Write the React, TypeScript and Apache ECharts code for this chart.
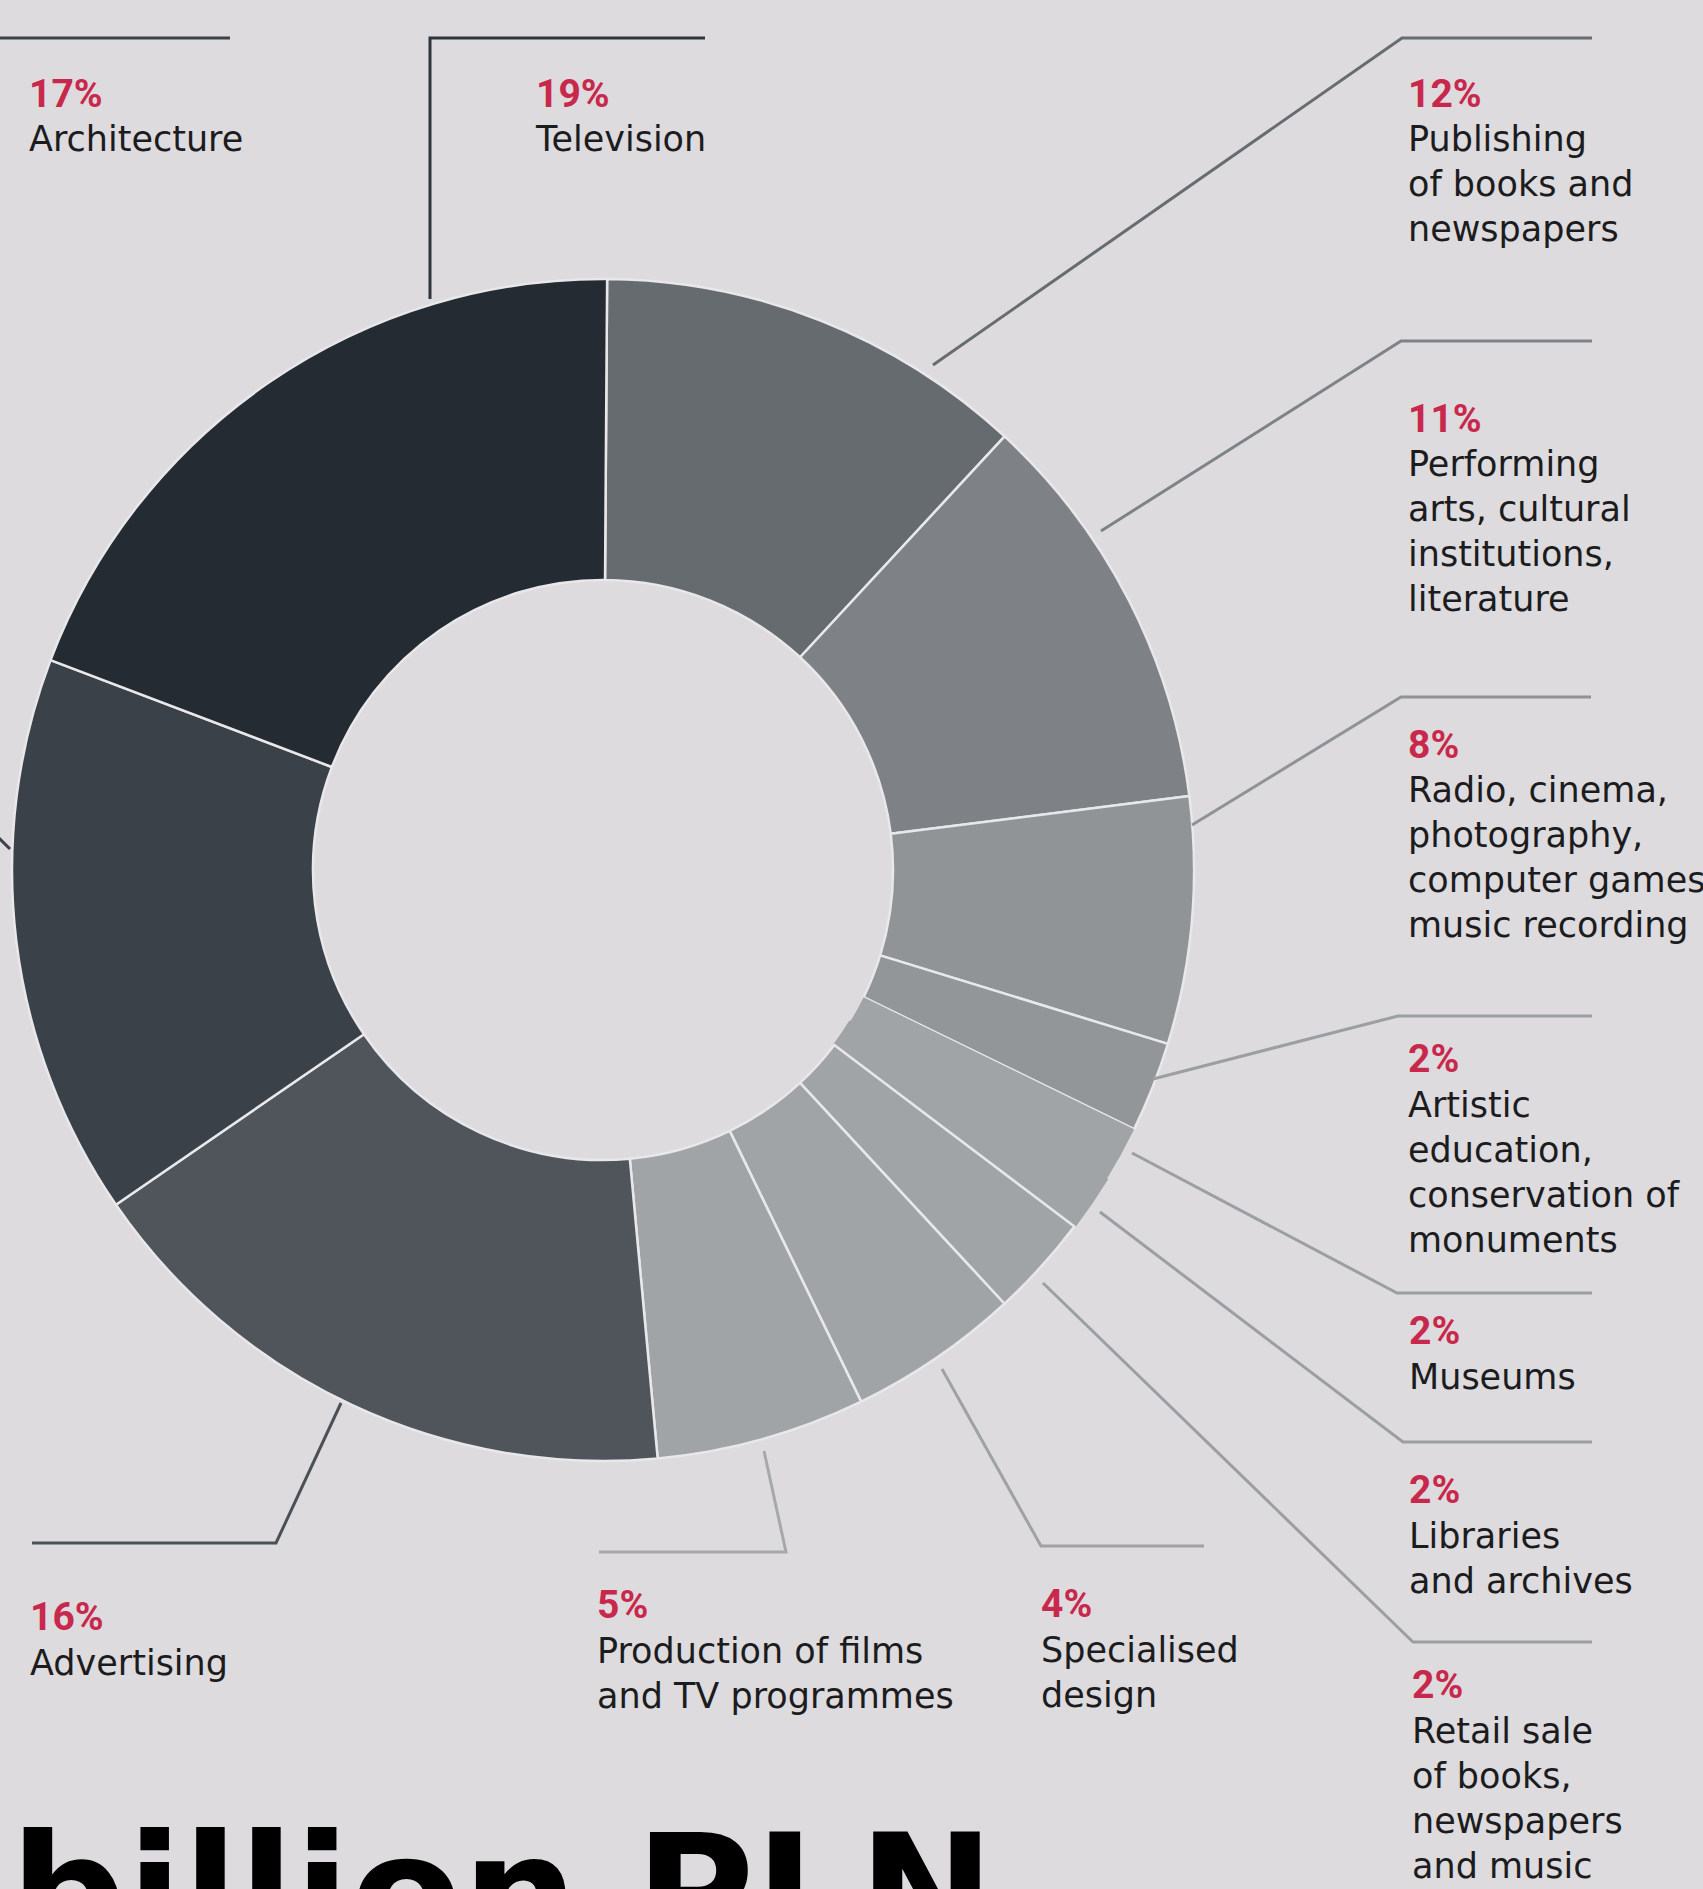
import React, { useEffect, useRef } from "react";
import * as echarts from "echarts";

// ---------- data (clockwise from 12 o'clock) ----------
const sectors = [
  "Publishing of books and newspapers",
  "Performing arts, cultural institutions, literature",
  "Radio, cinema, photography, computer games, music recording",
  "Artistic education, conservation of monuments",
  "Museums",
  "Libraries and archives",
  "Retail sale of books, newspapers and music",
  "Specialised design",
  "Production of films and TV programmes",
  "Advertising",
  "Architecture",
  "Television",
];

// label texts as printed (line breaks as in the picture)
const labelLines: string[][] = [
  ["Publishing", "of books and", "newspapers"],
  ["Performing", "arts, cultural", "institutions,", "literature"],
  ["Radio, cinema,", "photography,", "computer games", "music recording"],
  ["Artistic", "education,", "conservation of", "monuments"],
  ["Museums"],
  ["Libraries", "and archives"],
  ["Retail sale", "of books,", "newspapers", "and music"],
  ["Specialised", "design"],
  ["Production of films", "and TV programmes"],
  ["Advertising"],
  ["Architecture"],
  ["Television"],
];

// percentages as printed on the labels
const labelPercents = [12, 11, 8, 2, 2, 2, 2, 4, 5, 16, 17, 19];

// slice shares as drawn in the picture
const drawnShares = [11.78, 11.11, 6.75, 2.47, 1.54, 1.54, 2.81, 4.69, 5.72, 16.89, 15.36, 19.33];

const captionText = "billion PLN";

// ---------- styles & layout ----------
const BG = "#dddbde";
const SEP = "#e8e7ea";
const sliceColors = [
  "#666b6f", "#7e8286", "#909497", "#929699", "#a1a4a7", "#a1a4a7",
  "#a1a4a7", "#a1a4a7", "#a1a4a7", "#4f555b", "#3b4148", "#252b32",
];
const leaderColors = [
  "#676c70", "#7e8387", "#8f9396", "#9b9fa2", "#9b9fa2", "#9b9fa2",
  "#9b9fa2", "#9fa2a5", "#a6a9ac", "#4b5056", "#3d4248", "#2f353b",
];
// [x, y of percent line middle]
const labelAnchors: [number, number][] = [
  [1408, 93.5], [1408, 418.5], [1408, 744.5], [1408, 1059], [1409, 1331], [1409, 1490],
  [1412, 1685], [1041, 1604], [597, 1605], [30, 1617], [29, 93.5], [536, 93.5],
];
const leaderPaths: [number, number][][] = [
  [[933, 365], [1402, 38], [1592, 38]],
  [[1101, 531], [1401, 341], [1592, 341]],
  [[1192, 825], [1401, 697], [1591, 697]],
  [[1153, 1079], [1398, 1016], [1592, 1016]],
  [[1132, 1153], [1397, 1293], [1592, 1293]],
  [[1100, 1212], [1403, 1442], [1592, 1442]],
  [[1043, 1283], [1413, 1642], [1592, 1642]],
  [[942, 1369], [1041, 1546], [1204, 1546]],
  [[764, 1451], [786, 1552], [599, 1552]],
  [[341, 1403], [276, 1543], [32, 1543]],
  [[10, 849], [-40, 800], [-40, 38], [230, 38]],
  [[430, 299], [430, 38], [705, 38]],
];

const RED = "#c8284b";
const INK = "#1c1c1e";
const BODY_FONT = "'DejaVu Sans', 'Open Sans', sans-serif";
const PCT_FONT = "Roboto, 'DejaVu Sans', sans-serif";

export default function App() {
  const ref = useRef<HTMLDivElement>(null);

  useEffect(() => {
    if (!ref.current) return;
    const chart = echarts.init(ref.current, undefined, { renderer: "svg" });

    const graphics: any[] = [];
    leaderPaths.forEach((pts, i) => {
      graphics.push({
        type: "polyline",
        z: 100,
        silent: true,
        shape: { points: pts },
        style: { stroke: leaderColors[i], lineWidth: 3, fill: null },
      });
    });
    labelAnchors.forEach(([x, y], i) => {
      graphics.push({
        type: "text",
        z: 101,
        x,
        y,
        silent: true,
        style: {
          text: labelPercents[i] + "%",
          fontSize: 39,
          fontWeight: "bold",
          fontFamily: PCT_FONT,
          fill: RED,
          verticalAlign: "middle",
          align: "left",
        },
      });
      graphics.push({
        type: "text",
        z: 101,
        x,
        y: y + 23,
        silent: true,
        style: {
          text: labelLines[i].join("\n"),
          fontSize: 35,
          fontFamily: BODY_FONT,
          fill: INK,
          lineHeight: 45,
          verticalAlign: "top",
          align: "left",
        },
      });
    });
    graphics.push({
      type: "text",
      z: 101,
      x: 10,
      y: 1893,
      silent: true,
      style: {
        text: captionText,
        fontSize: 163,
        fontWeight: "bold",
        fontFamily: "'DejaVu Sans', sans-serif",
        fill: "#000000",
        verticalAlign: "middle",
        align: "left",
      },
    });

    const itemStyleFor = (name: string, i: number) => {
      if (name === "Museums") {
        return { color: sliceColors[i], borderWidth: 0 };
      }
      if (name === "Libraries and archives") {
        return { color: sliceColors[i], borderColor: sliceColors[i], borderWidth: 2.5 };
      }
      return { color: sliceColors[i] };
    };

    chart.setOption({
      animation: false,
      backgroundColor: BG,
      series: [
        {
          type: "pie",
          center: [603, 870],
          radius: [290, 591],
          startAngle: 89.6,
          clockwise: true,
          silent: true,
          label: { show: false },
          labelLine: { show: false },
          itemStyle: { borderColor: SEP, borderWidth: 2.5 },
          data: sectors.map((name, i) => ({
            name,
            value: drawnShares[i],
            itemStyle: itemStyleFor(name, i),
          })),
        },
      ],
      graphic: graphics,
    });

    return () => chart.dispose();
  }, []);

  return (
    <div
      ref={ref}
      style={{ position: "absolute", left: 0, top: 0, width: 1703, height: 1889 }}
    />
  );
}
